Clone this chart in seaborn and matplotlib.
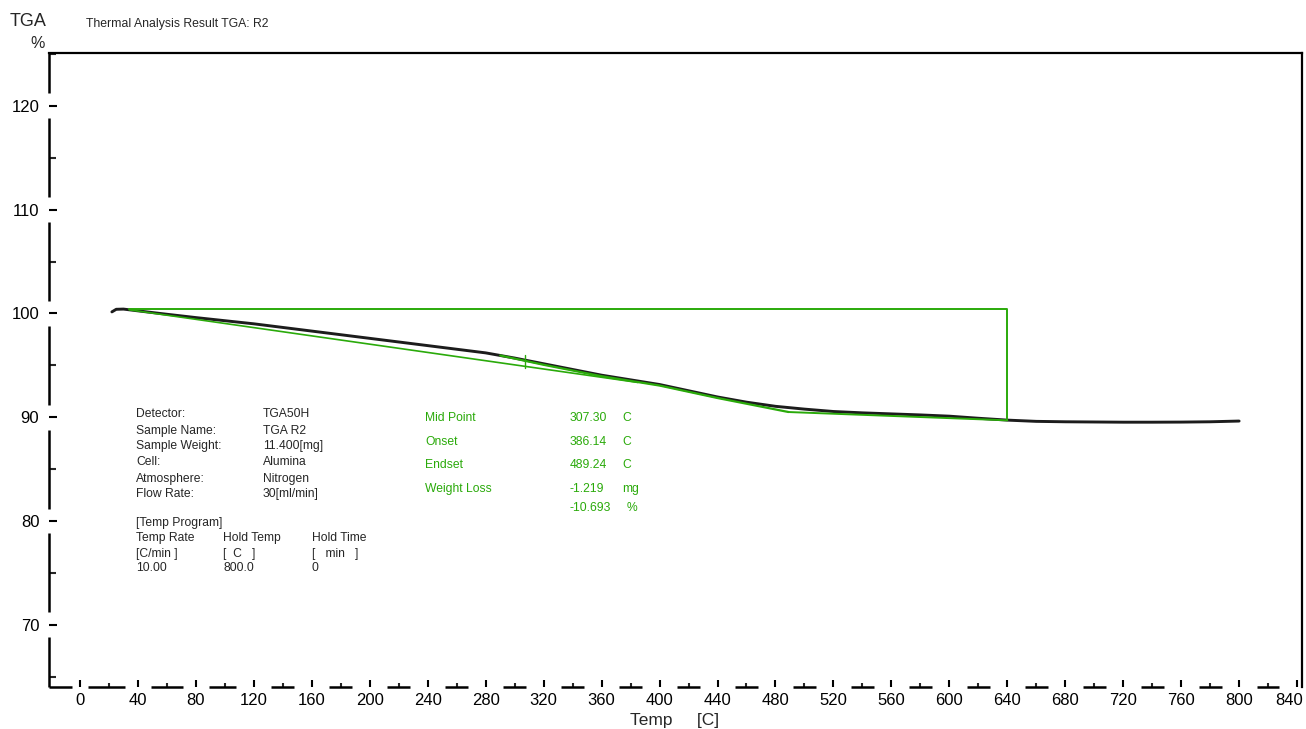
import numpy as np
import pandas as pd
import matplotlib
matplotlib.use("Agg")
import matplotlib.pyplot as plt
import matplotlib.transforms as mtransforms
import seaborn as sns

# ---------------- data ----------------
temp_c = [22, 25, 30, 40, 60, 80, 100, 120, 140, 160, 180, 200, 220, 240, 260, 280,
          300, 320, 340, 360, 380, 400, 420, 440, 460, 480, 500, 520, 540, 560, 580,
          600, 620, 640, 660, 680, 700, 720, 740, 760, 780, 800]
weight_pct = [100.15, 100.40, 100.42, 100.25, 99.92, 99.60, 99.30, 99.00, 98.65, 98.30,
              97.95, 97.60, 97.25, 96.90, 96.55, 96.20, 95.70, 95.15, 94.60, 94.05,
              93.60, 93.15, 92.55, 91.95, 91.45, 91.05, 90.78, 90.55, 90.42, 90.32,
              90.22, 90.10, 89.90, 89.72, 89.60, 89.56, 89.54, 89.52, 89.52, 89.53,
              89.56, 89.63]

# analysis construction lines (green)
box_t = [34, 640, 640]
box_w = [100.42, 100.42, 89.70]
base_t = [34, 385]
base_w = [100.35, 93.35]
step_t = [290, 320, 360, 400, 440, 489]
step_w = [95.95, 95.05, 93.95, 93.05, 91.85, 90.50]
tail_t = [489, 640]
tail_w = [90.50, 89.70]
mid_t = [307.3, 307.3]
mid_w = [94.75, 95.95]

xticks_major = list(range(0, 841, 40))
xticks_minor = list(range(20, 841, 40))
yticks_major = [70, 80, 90, 100, 110, 120]
yticks_minor = [65, 75, 85, 95, 105, 115, 125]

info_labels = ["Detector:", "Sample Name:", "Sample Weight:", "Cell:", "Atmosphere:", "Flow Rate:"]
info_values = ["TGA50H", "TGA R2", "11.400[mg]", "Alumina", "Nitrogen", "30[ml/min]"]
prog_headers = ["Temp Rate", "Hold Temp", "Hold Time"]
prog_units = ["[C/min ]", "[  C   ]", "[   min   ]"]
prog_values = ["10.00", "800.0", "0"]
res_labels = ["Mid Point", "Onset", "Endset", "Weight Loss", ""]
res_values = ["307.30", "386.14", "489.24", "-1.219", "-10.693"]
res_units = ["C", "C", "C", "mg", "%"]

# ---------------- figure ----------------
W, H = 1306, 729
sns.set_theme(style="white")
plt.rcParams['font.family'] = ['Liberation Sans', 'DejaVu Sans']

def fx(px):
    return px / W

def fy(py):
    return 1 - py / H

fig = plt.figure(figsize=(W / 100, H / 100), dpi=100)
ax = fig.add_axes([fx(49), fy(687), (1302 - 49) / W, (687 - 53) / H])

green = "#2aaa0a"
df = pd.DataFrame({"Temp": temp_c, "TGA": weight_pct})
sns.lineplot(data=df, x="Temp", y="TGA", ax=ax, color="#1c1c1c", lw=2.1,
             sort=False, estimator=None, zorder=3)
for tt, ww, lw in [(box_t, box_w, 1.4), (base_t, base_w, 1.2), (step_t, step_w, 1.6),
                   (tail_t, tail_w, 1.4), (mid_t, mid_w, 1.0)]:
    sns.lineplot(x=tt, y=ww, ax=ax, color=green, lw=lw, sort=False, estimator=None, zorder=4)

xmin, xmax, ymin, ymax = -21.4, 843.4, 64.0, 125.1
ax.set_xlim(xmin, xmax)
ax.set_ylim(ymin, ymax)
ax.set_xticks(xticks_major)
ax.set_xticks(xticks_minor, minor=True)
ax.set_yticks(yticks_major)
ax.set_yticks(yticks_minor, minor=True)
ax.set_xticklabels([str(t) for t in xticks_major])
ax.set_yticklabels([str(t) for t in yticks_major])

ax.tick_params(axis="x", which="major", direction="in", length=5, width=1.5,
               labelsize=12, pad=4, colors="black", bottom=True)
ax.tick_params(axis="x", which="minor", direction="in", length=3, width=1.5, bottom=True)
ax.tick_params(axis="y", which="major", direction="in", length=6, width=1.5,
               labelsize=12, pad=7, colors="black", left=True)
ax.tick_params(axis="y", which="minor", direction="in", length=5, width=1.5, left=True)

# nudge the last x tick label so it stays inside the figure
last = ax.get_xticklabels()[-1]
last.set_transform(last.get_transform() +
                   mtransforms.ScaledTranslation(-8 / 100, 0, fig.dpi_scale_trans))

ax.set_xlabel("")
ax.set_ylabel("")
ax.grid(False)

for s in ["top", "right"]:
    ax.spines[s].set_visible(True)
    ax.spines[s].set_color("black")
    ax.spines[s].set_linewidth(1.6)
ax.spines["left"].set_visible(False)
ax.spines["bottom"].set_visible(False)

# broken axis lines (gaps behind tick labels)
xtrans = ax.get_xaxis_transform()
ytrans = ax.get_yaxis_transform()
upx = (xmax - xmin) / (1302 - 49)   # data units per pixel (x)
edges = [xmin]
for t in xticks_major:
    half = (len(str(t)) * 9.4 / 2 + 3.5) * upx
    edges += [t - half, t + half]
edges.append(xmax)
for a, b in zip(edges[0::2], edges[1::2]):
    if b > a:
        ax.plot([a, b], [0, 0], color="black", lw=1.8, transform=xtrans,
                clip_on=False, solid_capstyle="butt", zorder=5)
yedges = [ymin]
for t in yticks_major:
    yedges += [t - 1.2, t + 1.2]
yedges.append(ymax)
for a, b in zip(yedges[0::2], yedges[1::2]):
    ax.plot([0, 0], [a, b], color="black", lw=1.8, transform=ytrans,
            clip_on=False, solid_capstyle="butt", zorder=5)

# axis labels / titles
fig.text(fx(675), fy(720), "Temp     [C]", ha="center", va="center", fontsize=12.5)
fig.text(fx(10), fy(22), "TGA", ha="left", va="center", fontsize=13)
fig.text(fx(30), fy(44), "%", ha="left", va="center", fontsize=11.5)
fig.text(fx(86), fy(24), "Thermal Analysis Result TGA: R2", ha="left", va="center",
         fontsize=8.8)

# info block
fs = 8.7
rows_y = [414, 431, 446, 462, 479, 494]
for lab, val, yy in zip(info_labels, info_values, rows_y):
    fig.text(fx(136), fy(yy), lab, ha="left", va="center", fontsize=fs)
    fig.text(fx(263), fy(yy), val, ha="left", va="center", fontsize=fs)
fig.text(fx(136), fy(523), "[Temp Program]", ha="left", va="center", fontsize=fs)
for col_x, hdr, unit, val in zip([136, 223, 312], prog_headers, prog_units, prog_values):
    fig.text(fx(col_x), fy(538), hdr, ha="left", va="center", fontsize=fs)
    fig.text(fx(col_x), fy(554), unit, ha="left", va="center", fontsize=fs)
    fig.text(fx(col_x), fy(568), val, ha="left", va="center", fontsize=fs)

# results block
res_y = [418, 442, 465, 489, 508]
unit_x = [622, 622, 622, 622, 627]
for lab, val, unit, yy, ux in zip(res_labels, res_values, res_units, res_y, unit_x):
    if lab:
        fig.text(fx(425), fy(yy), lab, ha="left", va="center", fontsize=fs, color=green)
    fig.text(fx(570), fy(yy), val, ha="left", va="center", fontsize=fs, color=green)
    fig.text(fx(ux), fy(yy), unit, ha="left", va="center", fontsize=fs, color=green)

fig.savefig("out.png", dpi=100)
